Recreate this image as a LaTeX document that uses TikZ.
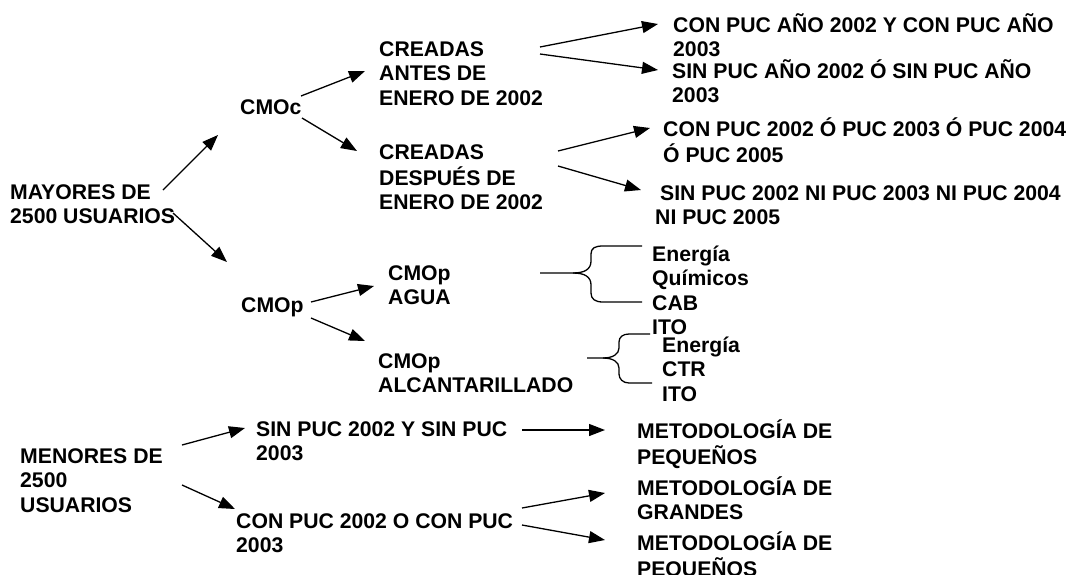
\documentclass[tikz,border=0pt]{standalone}
\usepackage{fontspec}
\setmainfont{Liberation Sans}
\usetikzlibrary{arrows.meta,positioning}
% texto en varias lineas, con la linea base en la primera
\newcommand{\lns}[1]{\begin{tabular}[t]{@{}l@{}}#1\end{tabular}}

\begin{document}
\begin{tikzpicture}[
    x=1pt, y=-1pt,
    font=\fontsize{21.2}{24.5}\selectfont\bfseries,
    txt/.style={anchor=base west, inner sep=0pt},
    arr/.style={-{Triangle[length=16pt,width=12pt]}, line width=1.3pt},
    brc/.style={line width=1.3pt}
]
\useasboundingbox (0,0) rectangle (1074,574);

% primer nivel
\node[txt] (may) at (10,199) {\lns{MAYORES DE\\2500 USUARIOS}};
\node[txt] (men) at (20,463) {\lns{MENORES DE\\2500\\USUARIOS}};

% segundo nivel
\node[txt] (cmoc) at (240,114) {CMOc};
\node[txt] (cmop) at (241,312) {CMOp};
\node[txt] (sinmen) at (256,436) {\lns{SIN PUC 2002 Y SIN PUC\\2003}};
\node[txt] (conmen) at (236,528) {\lns{CON PUC 2002 O CON PUC\\2003}};

% tercer nivel
\node[txt] (antes) at (379,56) {\lns{CREADAS\\ANTES DE\\ENERO DE 2002}};
\node[txt] (despues) at (379,159) {\lns{CREADAS\\DESPUÉS DE\\ENERO DE 2002}};
\node[txt] (agua) at (388,280) {\lns{CMOp\\AGUA}};
\node[txt] (alcan) at (378,368) {\lns{CMOp\\ALCANTARILLADO}};

% cuarto nivel
\node[txt] (conano) at (673,32) {\lns{CON PUC AÑO 2002 Y CON PUC AÑO\\2003}};
\node[txt] (sinano) at (672,78) {\lns{SIN PUC AÑO 2002 Ó SIN PUC AÑO\\2003}};
\node[txt] (conpuc) at (663,136) {\lns{CON PUC 2002 Ó PUC 2003 Ó PUC 2004\\Ó PUC 2005}};
\node[txt] (sinpuc) at (655,200) {\lns{\hspace*{5pt}SIN PUC 2002 NI PUC 2003 NI PUC 2004\\NI PUC 2005}};
\node[txt] (listagua) at (652,261) {\lns{Energía\\Químicos\\CAB\\ITO}};
\node[txt] (listalc) at (662,352) {\lns{Energía\\CTR\\ITO}};
\node[txt] (metpeq) at (637,438) {\lns{METODOLOGÍA DE\\PEQUEÑOS}};
\node[txt] (metgra) at (637,495) {\lns{METODOLOGÍA DE\\GRANDES}};
\node[txt] (metpeqb) at (637,550) {\lns{METODOLOGÍA DE\\PEQUEÑOS}};

% flechas de los mayores
\draw[arr] ([shift={(153,-9)}]may.base west) -- ([shift={(-22,21)}]cmoc.base west);
\draw[arr] ([shift={(163,14)}]may.base west) -- ([shift={(-14,-50)}]cmop.base west);
\draw[arr] ([shift={(61,-18)}]cmoc.base west) -- ([shift={(-14,15)}]antes.base west);
\draw[arr] ([shift={(62,4)}]cmoc.base west) -- ([shift={(-22,-8)}]despues.base west);
\draw[arr] ([shift={(161,-9)}]antes.base west) -- ([shift={(-15,-8)}]conano.base west);
\draw[arr] ([shift={(161,-2)}]antes.base west) -- ([shift={(-14,-8)}]sinano.base west);
\draw[arr] ([shift={(179,-8)}]despues.base west) -- ([shift={(-13,-8)}]conpuc.base west);
\draw[arr] ([shift={(179,7)}]despues.base west) -- ([shift={(-14,-10)}]sinpuc.base west);
\draw[arr] ([shift={(70,-10)}]cmop.base west) -- ([shift={(-14,6)}]agua.base west);
\draw[arr] ([shift={(70,6)}]cmop.base west) -- ([shift={(-13,-27)}]alcan.base west);

% llaves
\draw[brc] ([shift={(152,-7)}]agua.base west) -- ++(33,0) coordinate (llaveA)
  .. controls +(12,0) and +(0,8) .. ++(18,-12) -- ++(0,-7)
  .. controls +(0,-6) and +(-8,0) .. ++(12,-8) -- ++(39,0);
\draw[brc] (llaveA)
  .. controls +(12,0) and +(0,-8) .. ++(18,12) -- ++(0,8)
  .. controls +(0,6) and +(-8,0) .. ++(12,9) -- ++(39,0);
\draw[brc] ([shift={(209,-10)}]alcan.base west) -- ++(16,0) coordinate (llaveB)
  .. controls +(10,0) and +(0,6) .. ++(16,-10) -- ++(0,-6)
  .. controls +(0,-5) and +(-6,0) .. ++(10,-8) -- ++(21,0);
\draw[brc] (llaveB)
  .. controls +(10,0) and +(0,-6) .. ++(16,10) -- ++(0,6)
  .. controls +(0,5) and +(-6,0) .. ++(10,9) -- ++(23,0);

% flechas de los menores
\draw[arr] ([shift={(162,-18)}]men.base west) -- ([shift={(-11,-8)}]sinmen.base west);
\draw[arr] ([shift={(162,22)}]men.base west) -- ([shift={(-1,-19)}]conmen.base west);
\draw[arr] ([shift={(266,-6)}]sinmen.base west) -- ([shift={(-32,-8)}]metpeq.base west);
\draw[arr] ([shift={(286,-20)}]conmen.base west) -- ([shift={(-32,-2)}]metgra.base west);
\draw[arr] ([shift={(286,-3)}]conmen.base west) -- ([shift={(-32,-10)}]metpeqb.base west);
\end{tikzpicture}
\end{document}
